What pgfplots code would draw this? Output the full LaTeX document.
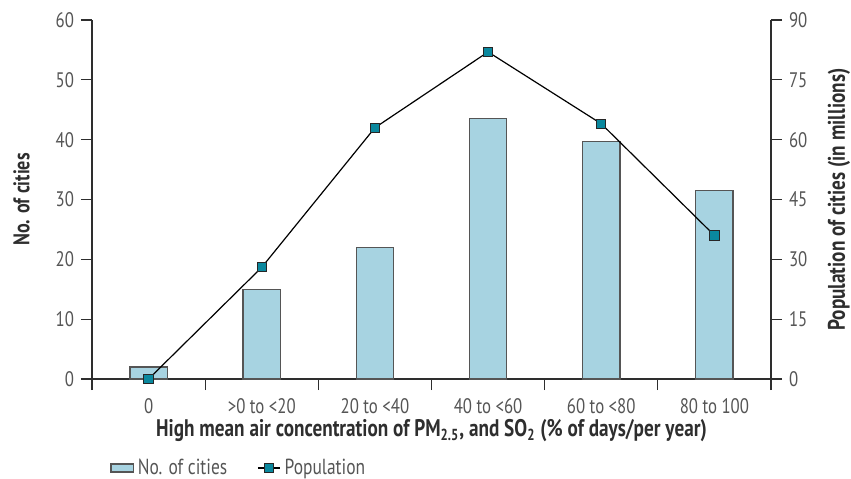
\documentclass[border=0pt]{standalone}
\usepackage{fontspec}
\setmainfont{PT Sans}[FakeStretch=0.8]
\usepackage{pgfplots}
\pgfplotsset{compat=1.18}
\definecolor{barblue}{HTML}{A7D3E1}
\definecolor{markteal}{HTML}{0A889E}
\definecolor{axgray}{HTML}{2E2E2E}
\definecolor{tickgray}{HTML}{555555}
\pgfplotsset{
  common/.style={
    at={(0,0)}, anchor=south west,
    scale only axis, width=339.5pt, height=179.5pt,
    xmin=-0.5, xmax=5.5,
    tick align=outside,
    major tick length=5.5pt,
    axis line style={draw=axgray, line width=0.6pt},
    every tick/.style={draw=axgray, line width=0.6pt},
    /pgf/number format/assume math mode=true,
    tick label style={font=\fontsize{10.5}{12}\selectfont, text=tickgray},
    label style={font=\fontsize{11.3}{13}\selectfont\bfseries, text=axgray},
  },
  poplegend/.style={legend image code/.code={\draw[##1, mark repeat=2, mark phase=2] plot coordinates {(0cm,0cm) (0.195cm,0cm) (0.39cm,0cm)};}},
  barlegend/.style={legend image code/.code={\draw[##1] (0cm,-0.07cm) rectangle (0.39cm,0.07cm);}},
}
\begin{document}
\begin{tikzpicture}
\useasboundingbox (-46pt,-49.5pt) rectangle (379.5pt,189.5pt);
\begin{axis}[common,
  ymin=0, ymax=60,
  axis x line*=bottom, axis y line*=left,
  ytick={0,10,...,60},
  xtick={-0.5,0.5,1.5,2.5,3.5,4.5,5.5},
  xticklabels={},
  extra x ticks={0,1,2,3,4,5},
  extra x tick labels={0,{>0 to <20},{20 to <40},{40 to <60},{60 to <80},{80 to 100}},
  extra x tick style={major tick length=0pt, x tick label style={yshift=-6pt}},
  ylabel={No. of cities},
  ylabel style={at={(axis description cs:-0.104,0.5)}, anchor=center},
  xlabel={High mean air concentration of PM\textsubscript{2.5}, and SO\textsubscript{2} (\% of days/per year)},
  xlabel style={at={(axis description cs:0.5,-0.145)}, anchor=center, font=\fontsize{12}{14}\selectfont\bfseries},
]
\addplot[ybar, bar width=0.33, fill=barblue, draw=tickgray, line width=0.6pt]
  coordinates {(0,2) (1,15) (2,22) (3,43.5) (4,39.7) (5,31.5)};
\end{axis}
\begin{axis}[common,
  ymin=0, ymax=90,
  axis x line=none, axis y line*=right,
  ytick={0,15,...,90},
  ylabel={Population of cities (in millions)},
  ylabel style={at={(axis description cs:1.100,0.5)}, anchor=center, font=\fontsize{12}{14}\selectfont\bfseries},
  poplegend,
  legend columns=2,
  legend style={at={(axis description cs:0.0265,-0.248)}, anchor=west, draw=none,
    fill=none, font=\fontsize{10.9}{12}\selectfont, text=tickgray,
    /tikz/every even column/.append style={column sep=13pt},
    inner sep=0pt},
]
\addlegendimage{barlegend, fill=barblue, draw=tickgray, line width=0.6pt}
\addlegendentry{No. of cities}
\addplot[black, line width=0.6pt, mark=square*, mark size=2.3pt,
  mark options={fill=markteal, draw=black!85, line width=0.5pt}]
  coordinates {(0,0) (1,28) (2,63) (3,82) (4,64) (5,36)};
\addlegendentry{Population}
\end{axis}
\end{tikzpicture}
\end{document}
